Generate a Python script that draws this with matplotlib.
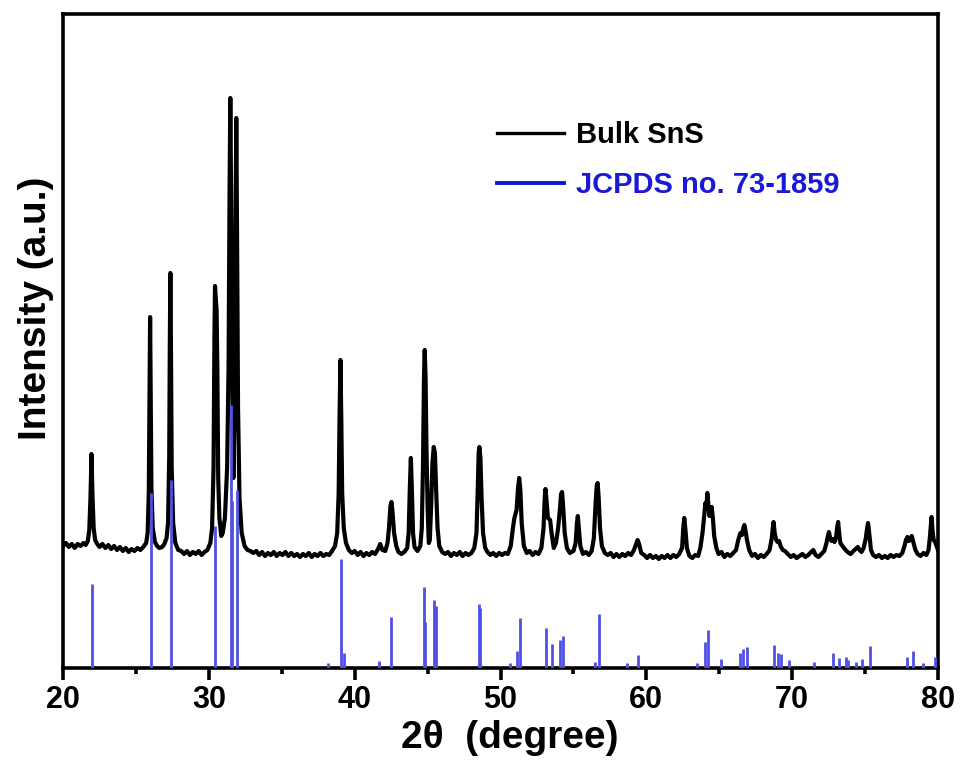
import matplotlib
matplotlib.use("Agg")
import matplotlib.pyplot as plt
from matplotlib.lines import Line2D

plt.rcParams['font.family'] = ['Liberation Sans', 'DejaVu Sans']
plt.rcParams['font.weight'] = 'bold'

# measured XRD pattern of bulk SnS (2theta in degree, intensity in a.u.)
bulk_pattern = [
    (20.0, 122), (20.2, 125), (20.4, 121), (20.6, 124), (20.8, 120), (21.0, 124), (21.2, 122),
    (21.4, 125), (21.55, 123), (21.7, 127), (21.8, 138), (21.88, 170), (21.95, 214), (22.02, 172),
    (22.1, 140), (22.2, 128), (22.35, 124), (22.5, 121), (22.7, 124), (22.9, 120), (23.1, 123),
    (23.3, 119), (23.5, 122), (23.7, 118), (23.9, 121), (24.1, 117), (24.3, 120), (24.5, 116),
    (24.7, 119), (24.9, 117), (25.1, 120), (25.3, 118), (25.5, 121), (25.7, 125), (25.8, 135),
    (25.88, 175), (25.93, 270), (25.97, 351), (26.01, 275), (26.06, 180), (26.15, 140), (26.3, 126),
    (26.45, 122), (26.6, 120), (26.8, 121), (26.95, 124), (27.1, 130), (27.2, 145), (27.28, 210),
    (27.32, 320), (27.36, 395), (27.40, 320), (27.45, 200), (27.55, 145), (27.7, 125), (27.9, 118),
    (28.1, 117), (28.3, 114), (28.5, 117), (28.7, 113), (28.9, 116), (29.1, 114), (29.3, 117),
    (29.5, 113), (29.7, 116), (29.9, 118), (30.1, 125), (30.22, 140), (30.32, 200), (30.38, 330),
    (30.42, 382), (30.47, 370), (30.53, 358), (30.58, 300), (30.64, 190), (30.72, 150), (30.85, 132),
    (30.95, 135), (31.1, 150), (31.25, 200), (31.35, 300), (31.42, 480), (31.47, 570), (31.52, 480),
    (31.6, 300), (31.68, 190), (31.75, 250), (31.82, 430), (31.88, 550), (31.93, 440), (32.0, 260),
    (32.1, 170), (32.25, 135), (32.45, 122), (32.65, 118), (32.85, 117), (33.05, 115), (33.25, 117),
    (33.45, 113), (33.65, 116), (33.85, 112), (34.05, 115), (34.25, 113), (34.45, 116), (34.65, 112),
    (34.85, 115), (35.05, 113), (35.25, 116), (35.45, 112), (35.65, 115), (35.85, 112), (36.05, 114),
    (36.25, 111), (36.45, 114), (36.65, 112), (36.85, 115), (37.05, 111), (37.25, 114), (37.45, 112),
    (37.65, 115), (37.85, 112), (38.05, 114), (38.25, 113), (38.45, 117), (38.65, 122), (38.8, 135),
    (38.9, 175), (38.96, 250), (39.02, 308), (39.08, 250), (39.14, 175), (39.25, 140), (39.4, 125),
    (39.6, 118), (39.8, 115), (40.0, 117), (40.2, 113), (40.4, 116), (40.6, 112), (40.8, 115),
    (41.0, 113), (41.2, 116), (41.4, 114), (41.6, 119), (41.75, 124), (41.9, 118), (42.1, 117),
    (42.25, 125), (42.35, 140), (42.45, 162), (42.52, 166), (42.6, 155), (42.7, 135), (42.85, 122),
    (43.0, 116), (43.2, 114), (43.4, 116), (43.6, 120), (43.7, 135), (43.78, 180), (43.85, 210),
    (43.92, 178), (44.0, 135), (44.1, 121), (44.3, 117), (44.5, 122), (44.6, 140), (44.68, 200),
    (44.75, 290), (44.8, 318), (44.86, 290), (44.92, 220), (45.0, 160), (45.08, 125), (45.15, 128),
    (45.25, 165), (45.33, 205), (45.42, 221), (45.5, 215), (45.58, 180), (45.68, 140), (45.8, 122),
    (46.0, 116), (46.2, 114), (46.4, 116), (46.6, 112), (46.8, 115), (47.0, 113), (47.2, 116),
    (47.4, 112), (47.6, 115), (47.8, 113), (48.0, 115), (48.2, 120), (48.35, 135), (48.43, 175),
    (48.5, 215), (48.55, 221), (48.62, 210), (48.7, 170), (48.8, 135), (48.95, 120), (49.1, 116),
    (49.3, 113), (49.5, 115), (49.7, 112), (49.9, 115), (50.1, 113), (50.3, 115), (50.5, 114),
    (50.7, 122), (50.85, 140), (50.95, 150), (51.1, 158), (51.2, 180), (51.28, 190), (51.36, 178),
    (51.45, 145), (51.6, 122), (51.8, 115), (52.0, 117), (52.2, 113), (52.4, 116), (52.6, 114),
    (52.8, 120), (52.95, 140), (53.03, 170), (53.08, 179), (53.15, 168), (53.25, 150), (53.4, 148),
    (53.5, 135), (53.65, 120), (53.8, 125), (53.95, 140), (54.08, 160), (54.15, 174), (54.22, 176),
    (54.3, 160), (54.4, 135), (54.55, 120), (54.75, 115), (55.0, 117), (55.15, 125), (55.24, 145),
    (55.3, 152), (55.37, 140), (55.47, 122), (55.65, 114), (55.85, 116), (56.05, 113), (56.25, 117),
    (56.4, 130), (56.52, 165), (56.6, 183), (56.66, 185), (56.73, 170), (56.82, 140), (56.95, 122),
    (57.15, 115), (57.35, 113), (57.55, 115), (57.75, 111), (57.95, 114), (58.15, 111), (58.35, 114),
    (58.55, 112), (58.75, 115), (58.95, 113), (59.15, 118), (59.3, 124), (59.4, 128), (59.5, 124),
    (59.65, 115), (59.85, 113), (60.05, 110), (60.25, 113), (60.45, 110), (60.65, 112), (60.85, 109),
    (61.05, 112), (61.25, 110), (61.45, 113), (61.65, 110), (61.85, 113), (62.05, 111), (62.25, 114),
    (62.45, 120), (62.53, 140), (62.6, 150), (62.68, 138), (62.78, 120), (62.95, 112), (63.15, 110),
    (63.35, 113), (63.55, 112), (63.7, 120), (63.85, 135), (63.95, 150), (64.05, 165), (64.12, 160),
    (64.18, 175), (64.25, 163), (64.32, 152), (64.4, 155), (64.48, 161), (64.56, 150), (64.65, 132),
    (64.8, 120), (64.95, 114), (65.15, 116), (65.35, 111), (65.55, 114), (65.75, 112), (65.95, 115),
    (66.15, 118), (66.3, 128), (66.45, 135), (66.55, 133), (66.65, 140), (66.72, 143), (66.8, 137),
    (66.9, 128), (67.05, 118), (67.25, 112), (67.45, 114), (67.65, 110), (67.85, 113), (68.05, 111),
    (68.25, 114), (68.45, 118), (68.6, 130), (68.67, 140), (68.72, 146), (68.8, 135), (68.9, 128),
    (69.0, 126), (69.1, 127), (69.2, 122), (69.35, 118), (69.5, 117), (69.7, 114), (69.9, 111),
    (70.1, 113), (70.3, 110), (70.5, 112), (70.7, 114), (70.9, 111), (71.1, 113), (71.3, 116),
    (71.45, 118), (71.6, 113), (71.8, 111), (72.0, 114), (72.2, 117), (72.35, 125), (72.45, 132),
    (72.52, 136), (72.6, 130), (72.7, 127), (72.8, 129), (72.9, 126), (73.0, 130), (73.08, 140),
    (73.15, 146), (73.22, 135), (73.3, 125), (73.45, 122), (73.6, 119), (73.8, 116), (74.0, 114),
    (74.2, 117), (74.35, 119), (74.5, 121), (74.62, 118), (74.75, 116), (74.9, 120), (75.05, 130),
    (75.12, 138), (75.2, 145), (75.28, 135), (75.4, 118), (75.55, 113), (75.75, 111), (75.95, 113),
    (76.15, 110), (76.35, 112), (76.55, 110), (76.75, 113), (76.95, 111), (77.15, 113), (77.35, 112),
    (77.55, 115), (77.7, 122), (77.8, 128), (77.9, 131), (78.0, 127), (78.1, 129), (78.2, 132),
    (78.3, 126), (78.45, 118), (78.6, 114), (78.8, 112), (79.0, 115), (79.2, 113), (79.35, 118),
    (79.45, 132), (79.52, 145), (79.56, 151), (79.62, 138), (79.7, 128), (79.8, 126), (79.9, 122),
    (80.0, 118),
]

# JCPDS no. 73-1859 reference lines
jcpds_2theta = [21.98, 26.0, 27.42, 30.45, 31.5, 31.62, 31.95, 38.2, 39.05, 39.27, 41.7, 42.47,
                44.77, 44.85, 45.45, 45.58, 48.5, 48.6, 50.65, 51.1, 51.35, 53.13, 53.5, 54.1,
                54.3, 56.5, 56.76, 58.7, 59.4, 63.46, 64.03, 64.25, 65.1, 66.45, 66.65, 66.9,
                68.75, 69.0, 69.25, 69.8, 71.5, 72.8, 73.2, 73.7, 73.85, 74.4, 74.8, 75.35,
                77.9, 78.3, 78.95, 79.8]
jcpds_intensity = [84, 175, 188, 142, 263, 167, 178, 5, 109, 15, 7, 51,
                   81, 46, 68, 62, 64, 60, 5, 17, 50, 40, 24, 28,
                   32, 6, 54, 5, 13, 5, 26, 38, 9, 15, 19, 21,
                   23, 15, 14, 8, 6, 15, 10, 11, 8, 6, 9, 22,
                   11, 17, 5, 11]

legend_labels = ["Bulk SnS", "JCPDS no. 73-1859"]

bulk_2theta = [p[0] for p in bulk_pattern]
bulk_intensity = [p[1] for p in bulk_pattern]

fig = plt.figure(figsize=(9.61, 7.65), dpi=100)
ax = fig.add_axes([0.0656, 0.1268, 0.9105, 0.8549])

ax.plot(bulk_2theta, bulk_intensity, color='black', linewidth=3.0, zorder=2)
ax.vlines(jcpds_2theta, 0, jcpds_intensity, colors='#5050e8', linewidth=2.0, zorder=3)

ax.set_xlim(20, 80)
ax.set_ylim(0, 654)
ax.set_xticks([20, 30, 40, 50, 60, 70, 80])
ax.set_xticks([25, 35, 45, 55, 65, 75], minor=True)
ax.set_yticks([])

for sp in ax.spines.values():
    sp.set_linewidth(2.6)
ax.tick_params(axis='x', which='major', direction='out', length=8.5, width=2.6,
               labelsize=22, pad=4)
ax.tick_params(axis='x', which='minor', direction='out', length=4.5, width=2.6)

ax.set_xlabel("2θ  (degree)", fontsize=28, fontweight='bold', va='top')
ax.xaxis.set_label_coords(0.511, -0.080)
ax.set_ylabel("Intensity (a.u.)", fontsize=28, fontweight='bold')
ax.yaxis.set_label_coords(-0.010, 0.55)

handles = [Line2D([], [], color='black', linewidth=2.4),
           Line2D([], [], color='#1414d2', linewidth=2.8)]
leg = ax.legend(handles, legend_labels, loc='upper left',
                bbox_to_anchor=(497 / 961, 1 - 121 / 765), bbox_transform=fig.transFigure,
                frameon=False, fontsize=21, handlelength=2.3, handletextpad=0.42,
                labelspacing=0.75, borderpad=0, borderaxespad=0)
leg.get_texts()[1].set_color('#1a1ad6')

fig.savefig("out.png", dpi=100)
